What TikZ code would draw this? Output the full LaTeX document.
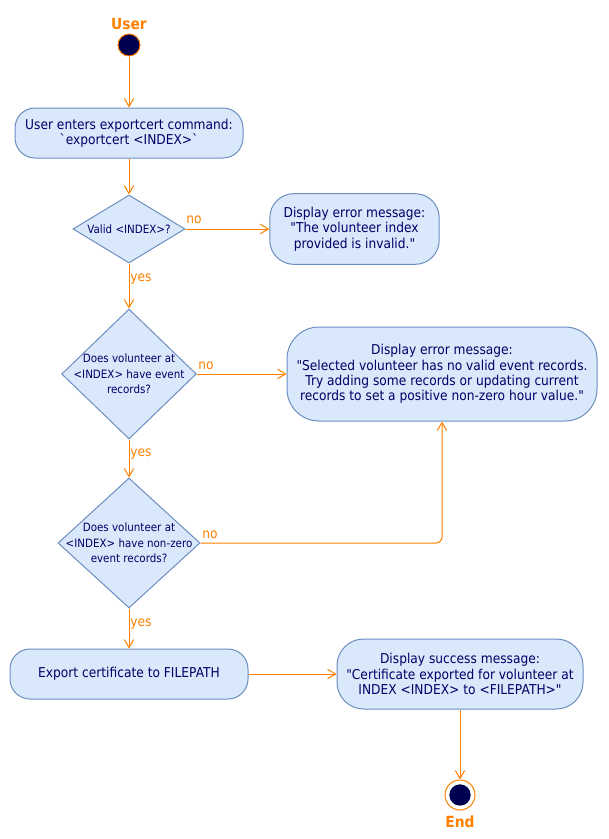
\documentclass[tikz,border=0pt]{standalone}
\usepackage{fontspec}
\setmainfont{DejaVu Sans}[FakeStretch=0.9]
\newfontfamily\plainfam{DejaVu Sans}[FakeStretch=0.9]
\usetikzlibrary{shapes.geometric,arrows.meta}
\definecolor{ora}{RGB}{255,128,0}
\definecolor{navy}{RGB}{0,0,102}
\definecolor{dot}{RGB}{0,0,80}
\definecolor{boxfill}{RGB}{218,232,252}
\definecolor{bord}{RGB}{108,142,191}
\newcommand{\boxfont}{\plainfam\fontsize{10.2pt}{11.6pt}\selectfont}
\newcommand{\diafont}{\plainfam\fontsize{8.6pt}{11.6pt}\selectfont}
\newcommand{\dq}{\char34\relax}
\newcommand{\bq}{\char96\relax}
\tikzset{
  actbox/.style={draw=bord, fill=boxfill, line width=0.75pt, rounded corners=#1,
    align=center, text=navy, font=\boxfont, inner sep=0pt},
  dia/.style={diamond, draw=bord, fill=boxfill, line width=0.75pt, inner sep=0pt, aspect=1},
  diatext/.style={align=center, text=navy, font=\diafont, inner sep=0pt},
  flow/.style={draw=ora, line width=0.75pt, -{Straight Barb[length=6pt,width=7pt]}},
  lbl/.style={text=ora, font=\boxfont, inner sep=0pt},
  title/.style={text=ora, font=\fontsize{11.5pt}{13pt}\selectfont\bfseries, inner sep=0pt},
}
\begin{document}
\begin{tikzpicture}[x=0.75pt,y=-0.75pt]
\useasboundingbox (0,0) rectangle (608,839);

\node[title] (user) at (129,24) {User};
\node[circle, draw=ora, fill=dot, line width=0.75pt, minimum size=16.5pt, inner sep=0pt] (start) at (129,45) {};

\node[actbox=15pt, minimum width=171pt, minimum height=37.5pt] (a1) at (129,133)
  {User enters exportcert command:\\\bq exportcert <INDEX>\bq};

\node[dia, minimum width=84pt, minimum height=51pt] (d1) at (129,229) {};
\node[diatext] (d1t) at (d1) {Valid <INDEX>?};

\node[actbox=18pt, minimum width=127pt, minimum height=53pt] (e1) at (354.5,229)
  {Display error message:\\\dq The volunteer index\\provided is invalid.\dq};

\node[dia, minimum width=101pt, minimum height=97.5pt] (d2) at (129,374) {};
\node[diatext] (d2t) at (d2) {Does volunteer at\\<INDEX> have event\\records?};

\node[actbox=24pt, minimum width=232.5pt, minimum height=70.5pt] (e2) at (442,374)
  {Display error message:\\\dq Selected volunteer has no valid event records.\\Try adding some records or updating current\\records to set a positive non-zero hour value.\dq};

\node[dia, minimum width=106.5pt, minimum height=97.5pt] (d3) at (129,543) {};
\node[diatext] (d3t) at (d3) {Does volunteer at\\<INDEX> have non-zero\\event records?};

\node[actbox=15pt, minimum width=178.5pt, minimum height=37.5pt] (ex) at (129,674)
  {Export certificate to FILEPATH};

\node[actbox=20pt, minimum width=184.5pt, minimum height=52.5pt] (succ) at (460,674)
  {Display success message:\\\dq Certificate exported for volunteer at\\INDEX <INDEX> to <FILEPATH>\dq};

\node[circle, draw=ora, fill=white, line width=0.75pt, minimum size=22.5pt, inner sep=0pt] (end) at (460,795) {};
\node[circle, fill=dot, minimum size=16pt, inner sep=0pt] (endin) at (end) {};
\node[title] (endl) at (460,822) {End};

\draw[flow] (start) -- (a1);
\draw[flow] (a1) -- (d1);
\draw[flow] (d1.east) -- (e1.west);
\draw[flow] (d1.south) -- (d2.north);
\draw[flow] (d2.east) -- (d2.east -| e2.west);
\draw[flow] (d2.south) -- (d3.north);
\draw[flow, rounded corners=4.5pt] (d3.east) -| (e2.south);
\draw[flow] (d3.south) -- (ex.north);
\draw[flow] (ex.east) -- (succ.west);
\draw[flow] (succ.south) -- (end.north);

\node[lbl] (n1) at (194,220) {no};
\node[lbl] (y1) at (141,279) {yes};
\node[lbl] (n2) at (206,366) {no};
\node[lbl] (y2) at (141,454) {yes};
\node[lbl] (n3) at (210,535) {no};
\node[lbl] (y3) at (141,624) {yes};
\end{tikzpicture}
\end{document}
